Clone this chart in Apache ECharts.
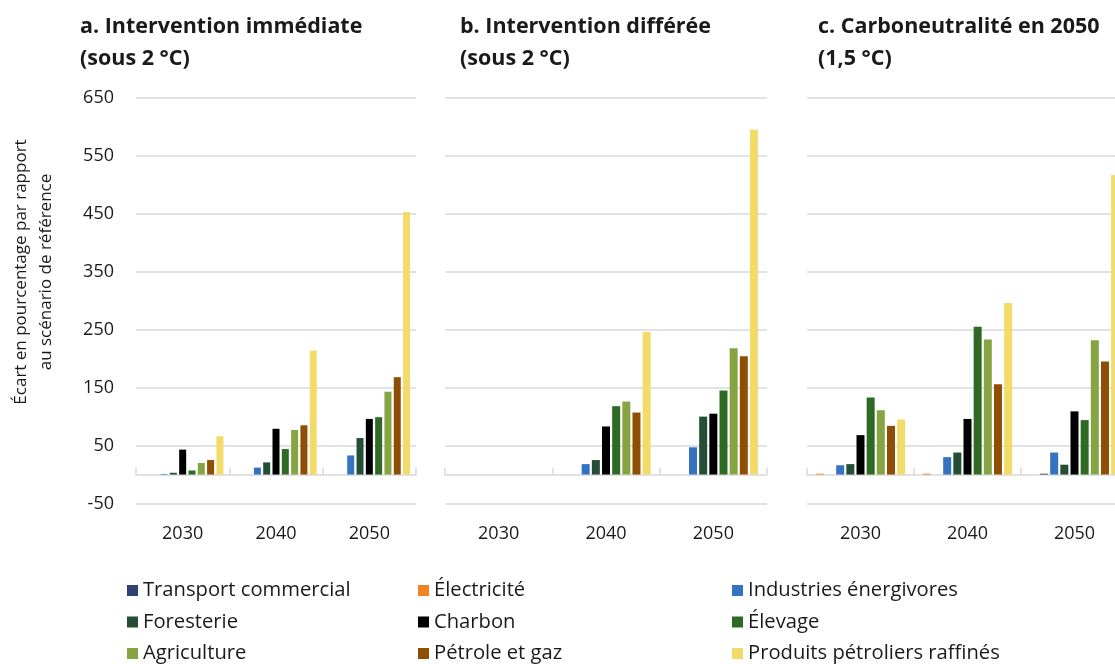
<!DOCTYPE html>
<html>
<head>
<meta charset="utf-8">
<script src="https://cdn.jsdelivr.net/npm/echarts@6/dist/echarts.min.js"></script>
<style>
  html, body { margin: 0; padding: 0; background: #fff; overflow: hidden; }
  /* the third panel runs slightly past the right edge of the page */
  #chart { width: 1130px; height: 664px; }
</style>
</head>
<body>
<div id="chart"></div>
<script>
// Years on each panel's category axis
const years = ['2030', '2040', '2050'];

// Panel titles
const panelTitles = [
  'a. Intervention immédiate\n(sous 2 °C)',
  'b. Intervention différée\n(sous 2 °C)',
  'c. Carboneutralité en 2050\n(1,5 °C)'
];

// Sector names (legend order)
const sectors = [
  'Transport commercial', 'Électricité', 'Industries énergivores',
  'Foresterie', 'Charbon', 'Élevage',
  'Agriculture', 'Pétrole et gaz', 'Produits pétroliers raffinés'
];

// % change vs. reference scenario, per sector, per panel [2030, 2040, 2050]
const transportCommercial = { a: [0, 0, 0],      b: [0, 0, 0],       c: [0, 0, 1.5] };
const electricite         = { a: [0, 0, 0],      b: [0, 0, 0],       c: [1.5, 1.5, 0] };
const industries          = { a: [1, 12, 33],    b: [0, 18, 47],     c: [16, 30, 38] };
const foresterie          = { a: [3, 21, 63],    b: [0, 25, 100],    c: [18, 38, 17] };
const charbon             = { a: [43, 79, 96],   b: [0, 83, 105],    c: [68, 96, 109] };
const elevage             = { a: [7, 44, 99],    b: [0, 118, 145],   c: [133, 255, 94] };
const agriculture         = { a: [20, 77, 143],  b: [0, 126, 218],   c: [111, 233, 232] };
const petroleGaz          = { a: [25, 85, 168],  b: [0, 107, 204],   c: [84, 156, 195] };
const produitsRaffines    = { a: [66, 214, 453], b: [0, 246, 595],   c: [95, 296, 517] };

// Y axis ticks
const yMin = -50, yMax = 650, yStep = 100;

// Bar drawing order within a category, with colours
const barSeries = [
  { name: 'Électricité',                 data: electricite,         color: '#F28322' },
  { name: 'Transport commercial',        data: transportCommercial, color: '#2E4371' },
  { name: 'Industries énergivores',      data: industries,          color: '#3672C2' },
  { name: 'Foresterie',                  data: foresterie,          color: '#254E37' },
  { name: 'Charbon',                     data: charbon,             color: '#000000' },
  { name: 'Élevage',                     data: elevage,             color: '#2E6A24' },
  { name: 'Agriculture',                 data: agriculture,         color: '#87A442' },
  { name: 'Pétrole et gaz',              data: petroleGaz,          color: '#8E4E05' },
  { name: 'Produits pétroliers raffinés', data: produitsRaffines,   color: '#F3DB6A' }
];

const FONT = '"Open Sans", "Noto Sans", sans-serif';
const TEXT = '#1a1a1a';
const GRIDC = '#d9d9d9';

const panels = [
  { key: 'a', left: 136, width: 280, titleLeft: 80,  barWidth: 7, barGap: '33%' },
  { key: 'b', left: 445, width: 322, titleLeft: 460, barWidth: 8, barGap: '27%' },
  { key: 'c', left: 807, width: 321, titleLeft: 818, barWidth: 8, barGap: '27%' }
];

const grid = [], xAxis = [], yAxis = [], series = [], title = [];
panels.forEach((p, i) => {
  grid.push({ left: p.left, width: p.width, top: 98, height: 405.5, containLabel: false });
  title.push({
    text: panelTitles[i], left: p.titleLeft, top: 11, padding: 0,
    textStyle: { fontFamily: FONT, fontSize: 21.5, fontWeight: 'bold', color: TEXT, lineHeight: 32 }
  });
  xAxis.push({
    type: 'category', gridIndex: i, data: years,
    axisLine: { onZero: true, lineStyle: { color: GRIDC, width: 1.5 } },
    axisTick: { show: true, inside: true, length: 7, lineStyle: { color: GRIDC, width: 1.5 } },
    axisLabel: { margin: 21, fontFamily: FONT, fontSize: 18, color: TEXT },
    splitLine: { show: false }
  });
  yAxis.push({
    type: 'value', gridIndex: i, min: yMin, max: yMax, interval: yStep,
    axisLine: { show: false }, axisTick: { show: false },
    axisLabel: { show: i === 0, margin: 22, fontFamily: FONT, fontSize: 18, color: TEXT },
    splitLine: { show: true, lineStyle: { color: GRIDC, width: 1.5 } }
  });
  barSeries.forEach(s => {
    series.push({
      type: 'bar', name: s.name, xAxisIndex: i, yAxisIndex: i,
      data: s.data[p.key], barWidth: p.barWidth, barGap: p.barGap,
      itemStyle: { color: s.color }, silent: true
    });
  });
});

const legendBase = {
  orient: 'vertical', top: 580, padding: 0, itemGap: 10.5,
  icon: 'rect', itemWidth: 11, itemHeight: 11, selectedMode: false,
  textStyle: { fontFamily: FONT, fontSize: 20.2, color: TEXT, lineHeight: 21 }
};
const legend = [
  Object.assign({}, legendBase, { left: 127, data: [sectors[0], sectors[3], sectors[6]] }),
  Object.assign({}, legendBase, { left: 418, data: [sectors[1], sectors[4], sectors[7]] }),
  Object.assign({}, legendBase, { left: 732, data: [sectors[2], sectors[5], sectors[8]] })
];

const chart = echarts.init(document.getElementById('chart'), null, { renderer: 'canvas' });
chart.setOption({
  animation: false,
  backgroundColor: '#ffffff',
  title, grid, xAxis, yAxis, series, legend,
  graphic: [{
    type: 'text', x: 34, y: 272, rotation: Math.PI / 2,
    style: {
      text: 'Écart en pourcentage par rapport\nau scénario de référence',
      fontFamily: FONT, fontSize: 17, fill: TEXT, lineHeight: 25,
      align: 'center', verticalAlign: 'middle'
    }
  }]
});
</script>
</body>
</html>
